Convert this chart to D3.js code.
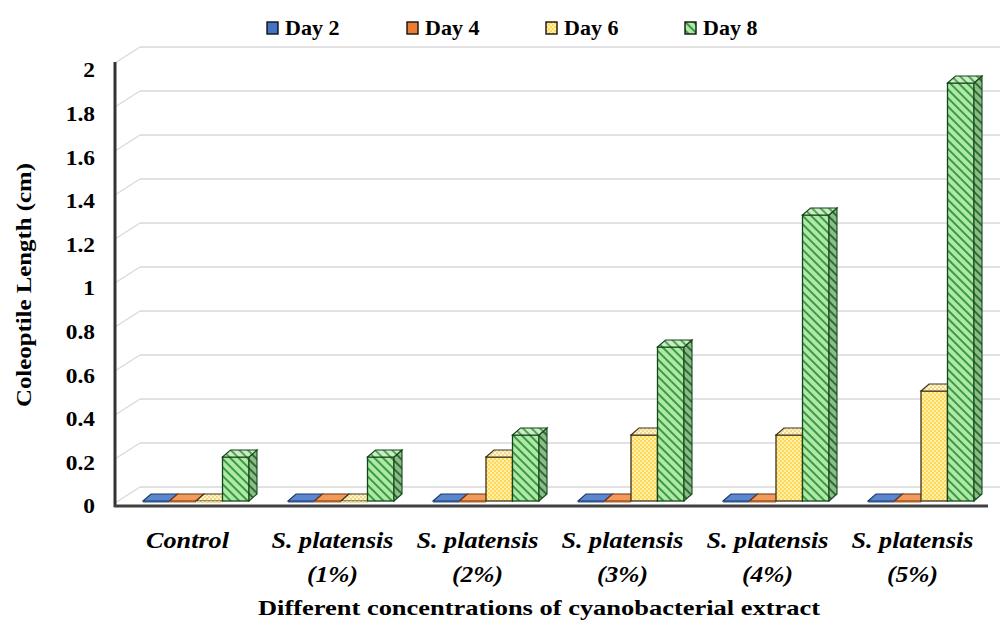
<!DOCTYPE html>
<html><head><meta charset="utf-8">
<script src="https://cdn.jsdelivr.net/npm/d3@7/dist/d3.min.js"></script>
</head><body style="margin:0;background:#fff">
<svg id="c" width="1002" height="620" style="display:block"></svg>
<script>
const categories = ["Control","S. platensis (1%)","S. platensis (2%)","S. platensis (3%)","S. platensis (4%)","S. platensis (5%)"];
const categoryLines = [["Control"],["S. platensis","(1%)"],["S. platensis","(2%)"],["S. platensis","(3%)"],["S. platensis","(4%)"],["S. platensis","(5%)"]];
const seriesNames = ["Day 2","Day 4","Day 6","Day 8"];
const day2 = [0,0,0,0,0,0];
const day4 = [0,0,0,0,0,0];
const day6 = [0,0,0.2,0.3,0.3,0.5];
const day8 = [0.2,0.2,0.3,0.7,1.3,1.9];
const yTicks = [0,0.2,0.4,0.6,0.8,1,1.2,1.4,1.6,1.8,2];
const yTitle = "Coleoptile Length (cm)";
const xTitle = "Different concentrations of cyanobacterial extract";

const seriesValues = [day2, day4, day6, day8];
const svg = d3.select("#c");
const FONT = "Liberation Serif";

const defs = svg.append("defs");
function checker(id, bg, fg){
  const p = defs.append("pattern").attr("id",id).attr("width",4).attr("height",4).attr("patternUnits","userSpaceOnUse");
  p.append("rect").attr("width",4).attr("height",4).attr("fill",bg);
  p.append("rect").attr("width",2).attr("height",2).attr("fill",fg);
  p.append("rect").attr("x",2).attr("y",2).attr("width",2).attr("height",2).attr("fill",fg);
}
function stripes(id, bg, fg){
  const p = defs.append("pattern").attr("id",id).attr("width",6).attr("height",6).attr("patternUnits","userSpaceOnUse").attr("patternTransform","rotate(-45)");
  p.append("rect").attr("width",6).attr("height",6).attr("fill",bg);
  p.append("rect").attr("width",2).attr("height",6).attr("fill",fg);
}
checker("pY","#fff0a8","#ffd75a");
checker("pYs","#e8d48a","#d2b24a");
checker("pYt","#fff6c8","#f0d890");
stripes("pG","#b0e8a6","#3a9a46");
stripes("pGs","#8cbc88","#2e6e34");
stripes("pGt","#c8eec2","#5aa060");

const styles = [
  {front:"#4472c4", side:"#2f5597", top:"#5b87cf", stroke:"#1f3864"},
  {front:"#ed7d31", side:"#b85f22", top:"#f19a5c", stroke:"#6b3510"},
  {front:"url(#pY)", side:"url(#pYs)", top:"url(#pYt)", stroke:"#3a3220"},
  {front:"url(#pG)", side:"url(#pGs)", top:"url(#pGt)", stroke:"#14451a"}
];

const x0 = d3.scaleBand().domain(categories).range([115,985]).paddingInner(0).paddingOuter(0);
const x1 = d3.scaleBand().domain(seriesNames).range([28,134]).padding(0);
const y = d3.scaleLinear().domain([0,2]).range([501,61]);
const yLab = d3.scaleLinear().domain([0,2]).range([506,70]);

const wallDx = 25, wallDy = -14;
const bx = 8, by = -7;

const g = svg.append("g");
yTicks.forEach(t=>{
  const yy = y(t);
  g.append("line").attr("x1",140).attr("x2",1000).attr("y1",yy+wallDy).attr("y2",yy+wallDy)
    .attr("stroke","#d9d9d9").attr("stroke-width",1.5);
  g.append("line").attr("x1",115).attr("x2",115+wallDx).attr("y1",yy+2).attr("y2",yy+wallDy)
    .attr("stroke","#d9d9d9").attr("stroke-width",1.2);
});

const bw = x1.bandwidth();
categories.forEach((c,ci)=>{
  seriesNames.forEach((s,si)=>{
    const v = seriesValues[si][ci];
    const st = styles[si];
    const xl = x0(c) + x1(s);
    const xr = xl + bw;
    const yt = y(v), yb = y(0);
    const bar = svg.append("g");
    if (v > 0) {
      bar.append("rect").attr("x",xl).attr("y",yt).attr("width",bw).attr("height",yb-yt)
        .attr("fill",st.front).attr("stroke",st.stroke).attr("stroke-width",1.3);
      bar.append("path").attr("d",`M${xr},${yt}L${xr+bx},${yt+by}L${xr+bx},${yb+by}L${xr},${yb}Z`)
        .attr("fill",st.side).attr("stroke",st.stroke).attr("stroke-width",1.1);
    }
    bar.append("path").attr("d",`M${xl},${yt}L${xl+bx},${yt+by}L${xr+bx},${yt+by}L${xr},${yt}Z`)
      .attr("fill",st.top).attr("stroke",st.stroke).attr("stroke-width",1.1);
    if (v === 0) {
      bar.append("rect").attr("x",xl).attr("y",yt).attr("width",bw).attr("height",1.5).attr("fill",st.side);
    }
  });
});

svg.append("line").attr("x1",115).attr("x2",115).attr("y1",62).attr("y2",507)
  .attr("stroke","#333").attr("stroke-width",3);
svg.append("line").attr("x1",114).attr("x2",988).attr("y1",506).attr("y2",506)
  .attr("stroke","#404040").attr("stroke-width",3);

// y tick labels
const yAxis = d3.axisLeft(yLab).tickValues(yTicks).tickSize(0).tickPadding(0).tickFormat(d=>String(d));
const ya = svg.append("g").attr("transform","translate(95,0)").call(yAxis);
ya.select(".domain").remove();
ya.attr("font-family",FONT).attr("font-size",20);
ya.selectAll("text").attr("font-family",FONT).attr("font-weight","bold").attr("fill","#000").attr("dy","0.34em")
  .attr("transform","scale(1.17,1)");

// x category labels
categories.forEach((c,ci)=>{
  const cx = x0(c) + x0.bandwidth()/2;
  categoryLines[ci].forEach((ln,li)=>{
    const w = ln === "Control" ? 83 : (ln.startsWith("(") ? 51 : 122);
    svg.append("text").attr("x",cx - w/2).attr("y",548+li*34)
      .attr("font-family",FONT).attr("font-weight","bold").attr("font-style","italic").attr("font-size",23)
      .attr("textLength",w).attr("lengthAdjust","spacingAndGlyphs").attr("fill","#000").text(ln);
  });
});

// titles
svg.append("text").attr("x",258).attr("y",615)
  .attr("font-family",FONT).attr("font-weight","bold").attr("font-size",22)
  .attr("textLength",562).attr("lengthAdjust","spacingAndGlyphs").attr("fill","#000").text(xTitle);
svg.append("text").attr("transform","translate(31,407) rotate(-90)")
  .attr("font-family",FONT).attr("font-weight","bold").attr("font-size",22)
  .attr("textLength",244).attr("lengthAdjust","spacingAndGlyphs").attr("fill","#000").text(yTitle);

// legend
const legX = [267,407,546,685];
seriesNames.forEach((s,i)=>{
  const st = styles[i];
  svg.append("rect").attr("x",legX[i]).attr("y",22).attr("width",11).attr("height",12)
    .attr("fill",st.front).attr("stroke","#111").attr("stroke-width",1.4);
  svg.append("text").attr("x",legX[i]+18).attr("y",35).attr("font-family",FONT).attr("font-weight","bold")
    .attr("font-size",22).attr("fill","#000").text(s);
});
</script>
</body></html>
